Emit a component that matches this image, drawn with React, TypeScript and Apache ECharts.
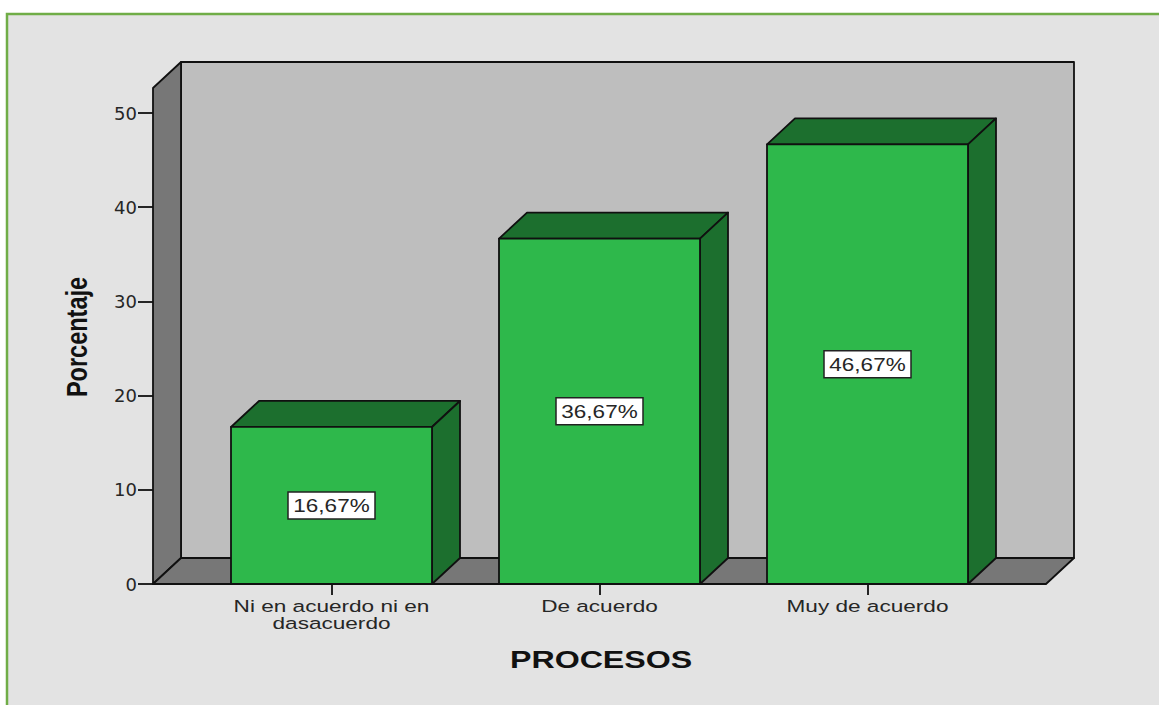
import React, { useEffect, useRef } from "react";
import * as echarts from "echarts";

const categories = ["Ni en acuerdo ni en\ndasacuerdo", "De acuerdo", "Muy de acuerdo"];
const values = [16.67, 36.67, 46.67];
const valueLabels = ["16,67%", "36,67%", "46,67%"];
const yTicks = [0, 10, 20, 30, 40, 50];
const xTitle = "PROCESOS";
const yTitle = "Porcentaje";

const BAR = "#2eb84b";
const BAR_DARK = "#1c6f2e";
const WALL = "#bebebe";
const SIDE = "#777777";
const INK = "#101010";
const TEXT = "#262626";
const DX = 28;
const DY = 26;
const AXIS_PAD = 44.5;
const EDGE = { stroke: INK, lineWidth: 1.8, lineJoin: "round" };

function renderWalls(params: any, api: any) {
  const cs = params.coordSys;
  const x0 = cs.x - AXIS_PAD;
  const x1 = cs.x + cs.width + AXIS_PAD;
  const yb = cs.y + cs.height;
  const yt = cs.y - 25;
  const poly = (points: number[][], fill: string) => ({
    type: "polygon",
    shape: { points },
    style: { fill, ...EDGE },
  });
  return {
    type: "group",
    children: [
      { type: "rect", shape: { x: x0 + DX, y: yt - DY, width: x1 - x0, height: yb - yt }, style: { fill: WALL, ...EDGE } },
      poly([[x0, yb], [x0 + DX, yb - DY], [x0 + DX, yt - DY], [x0, yt]], SIDE),
      poly([[x0, yb], [x1, yb], [x1 + DX, yb - DY], [x0 + DX, yb - DY]], SIDE),
    ],
  };
}

function renderBar(params: any, api: any) {
  const i = api.value(0);
  const v = api.value(1);
  const [cx, y] = api.coord([i, v]);
  const [, y0] = api.coord([i, 0]);
  const [, ym] = api.coord([i, v / 2]);
  const w = api.size([1, 0])[0] * 0.75;
  const x = cx - w / 2;
  const poly = (points: number[][], fill: string) => ({
    type: "polygon",
    shape: { points },
    style: { fill, ...EDGE },
  });
  return {
    type: "group",
    children: [
      poly([[x, y], [x + DX, y - DY], [x + w + DX, y - DY], [x + w, y]], BAR_DARK),
      poly([[x + w, y], [x + w + DX, y - DY], [x + w + DX, y0 - DY], [x + w, y0]], BAR_DARK),
      { type: "rect", shape: { x, y, width: w, height: y0 - y }, style: { fill: BAR, ...EDGE } },
      { type: "rect", shape: { x: cx - 43.5, y: ym - 13.5, width: 87, height: 27 }, style: { fill: "#ffffff", stroke: "#222222", lineWidth: 1.5 } },
      {
        type: "text",
        x: cx,
        y: ym + 0.5,
        scaleX: 1.25,
        style: {
          text: valueLabels[i],
          fill: TEXT,
          font: '18px "Liberation Sans"',
          align: "center",
          verticalAlign: "middle",
        },
      },
      {
        type: "text",
        x: cx,
        y: y0 + 14,
        scaleX: 1.37,
        style: {
          text: categories[i],
          fill: TEXT,
          font: '16.5px "Liberation Sans"',
          lineHeight: 17,
          align: "center",
          verticalAlign: "top",
        },
      },
    ],
  };
}

export default function App() {
  const ref = useRef<HTMLDivElement>(null);
  useEffect(() => {
    document.body.style.margin = "0";
    const chart = echarts.init(ref.current!, null, { renderer: "svg" });
    chart.setOption({
      animation: false,
      backgroundColor: "#ffffff",
      grid: { left: 197.5, right: 157.5, top: 113, bottom: 121, containLabel: false },
      graphic: [
        {
          type: "rect",
          z: -10,
          shape: { x: 7, y: 14, width: 1160, height: 700 },
          style: { fill: "#e3e3e3", stroke: "#70ad47", lineWidth: 2.5 },
        },
        {
          type: "text",
          left: 510,
          top: 648,
          scaleX: 1.34,
          style: { text: xTitle, fill: "#111111", font: 'bold 24px "Liberation Sans"' },
        },
        {
          type: "text",
          x: 77,
          y: 337,
          rotation: Math.PI / 2,
          scaleX: 1,
          scaleY: 1.25,
          style: { text: yTitle, fill: "#111111", font: 'bold 23.5px "Liberation Sans"', align: "center", verticalAlign: "middle" },
        },
      ],
      xAxis: {
        type: "category",
        data: categories,
        axisLine: { show: false },
        axisTick: { show: true, alignWithLabel: true, length: 11, lineStyle: { color: INK, width: 1.8 } },
        axisLabel: { show: false },
      },
      yAxis: {
        type: "value",
        min: 0,
        max: 50,
        interval: 10,
        offset: AXIS_PAD,
        splitLine: { show: false },
        axisLine: { show: false },
        axisTick: { show: true, length: 15, lineStyle: { color: INK, width: 1.8 } },
        axisLabel: { color: TEXT, fontFamily: "DejaVu Sans", fontSize: 18, margin: 16, formatter: (v: number) => (yTicks.includes(v) ? String(v) : "") },
      },
      series: [
        { type: "custom", z: 1, silent: true, clip: false, renderItem: renderWalls, data: [[0, 0]], encode: { x: 0, y: 1 } },
        { type: "custom", z: 2, silent: true, clip: false, renderItem: renderBar, data: values.map((v, i) => [i, v]), encode: { x: 0, y: 1 } },
      ],
    });
    return () => chart.dispose();
  }, []);
  return <div ref={ref} style={{ width: 1159, height: 705 }} />;
}
